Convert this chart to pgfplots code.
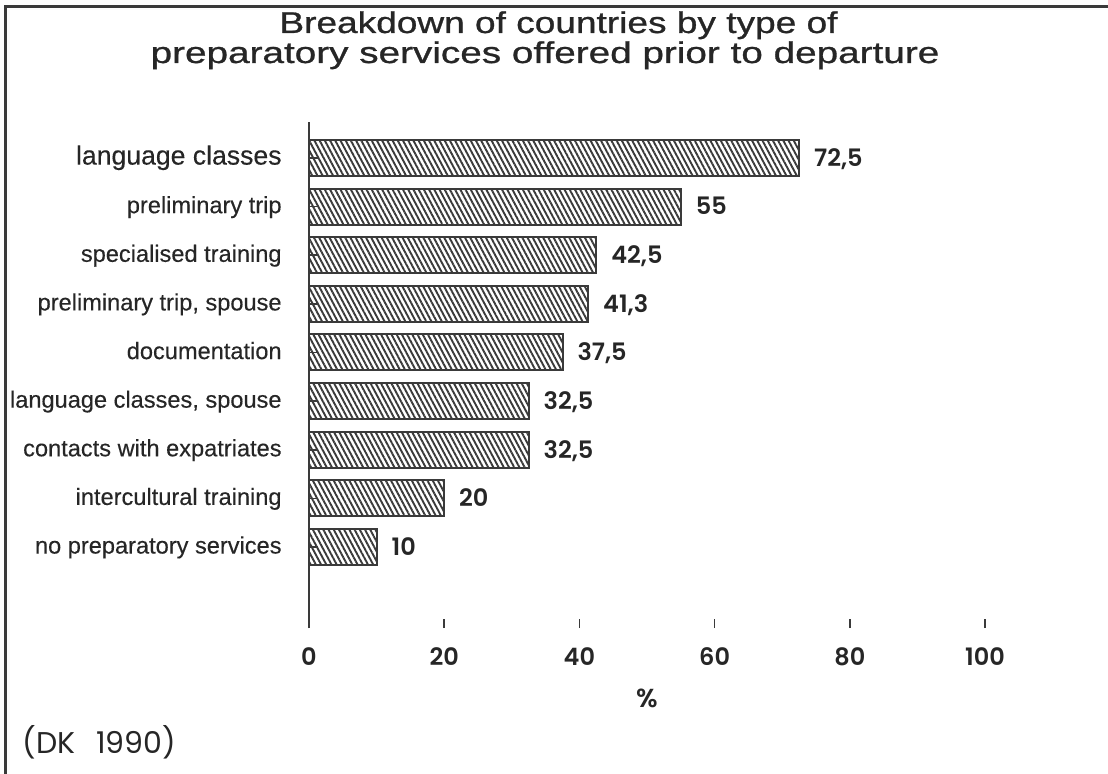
\documentclass[border=0pt]{standalone}
\usepackage{pgfplots}
\pgfplotsset{compat=1.18}
\usepackage{fontspec}
\setmainfont{Liberation Sans}
\newfontfamily\titlefont{Liberation Sans}[FakeBold=0.8]
\newfontfamily\labfont{Liberation Sans}[FakeBold=0.3]
\newfontfamily\numfont{Poppins}[BoldFont={Poppins SemiBold}]
\usetikzlibrary{patterns.meta}
\definecolor{ink}{HTML}{262626}
\definecolor{lin}{HTML}{3A3A3A}
\begin{document}
\begin{tikzpicture}
\path[use as bounding box] (0,0) rectangle (554pt,-387pt);
\draw[lin, line width=1.5pt] (2.5pt,-387pt) -- (2.5pt,-3.5pt) -- (554pt,-3.5pt);
\node[xscale=1.235, anchor=base, text=ink, inner sep=0pt, font=\titlefont\fontsize{15}{18}\selectfont] at (279.25pt,-16.5pt) {Breakdown of countries by type of};
\node[xscale=1.29, anchor=base, text=ink, inner sep=0pt, font=\titlefont\fontsize{15}{18}\selectfont] at (272.5pt,-31.5pt) {preparatory services offered prior to departure};
\node[anchor=west, text=ink, inner sep=0pt, font=\numfont\fontsize{15}{17}\selectfont] at (11pt,-371pt) {(DK\ \ \,1990)};
\begin{axis}[
  at={(154.5pt,-314pt)}, anchor=south west,
  scale only axis, width=338pt, height=253pt,
  xmin=0, xmax=100, ymin=-1.667, ymax=8.74,
  axis lines*=left,
  x axis line style={draw=none},
  y axis line style={lin, line width=1pt},
  every tick/.style={lin, line width=0.8pt},
  tick align=inside,
  major tick length=4.5pt,
  xtick={0,20,40,60,80,100},
  ytick={0,1,2,3,4,5,6,7,8},
  yticklabels={no preparatory services, intercultural training, contacts with expatriates, {language classes, spouse}, documentation, {preliminary trip, spouse}, specialised training, preliminary trip, {\fontsize{13.3}{15}\selectfont language classes}},
  /pgf/number format/assume math mode=true,
  /pgf/number format/use comma,
  /pgf/number format/1000 sep={},
  xticklabel style={anchor=center, yshift=-14.5pt, inner sep=0pt, text=ink, font=\numfont\bfseries\fontsize{12}{14}\selectfont},
  yticklabel style={anchor=base east, inner sep=0pt, xshift=-13.5pt, yshift=-3.3pt, text=ink, font=\labfont\fontsize{11.8}{14}\selectfont},
  xlabel={\%},
  xlabel style={at={(axis description cs:0.5,0)}, anchor=center, yshift=-35pt, inner sep=0pt, text=ink, font=\numfont\bfseries\fontsize{13}{15}\selectfont},
  point meta=x,
  nodes near coords,
  every node near coord/.append style={anchor=base west, inner sep=0pt, xshift=7pt, yshift=-4.2pt, text=ink, font=\numfont\bfseries\fontsize{12}{14}\selectfont},
  clip=false,
]
\addplot[xbar, bar width=18pt, draw=lin, line width=1pt,
  pattern={Lines[angle=-62, distance=2.3pt, line width=0.95pt]}, pattern color=lin]
  coordinates {(10,0) (20,1) (32.5,2) (32.5,3) (37.5,4) (41.3,5) (42.5,6) (55,7) (72.5,8)};
\end{axis}
\end{tikzpicture}
\end{document}
